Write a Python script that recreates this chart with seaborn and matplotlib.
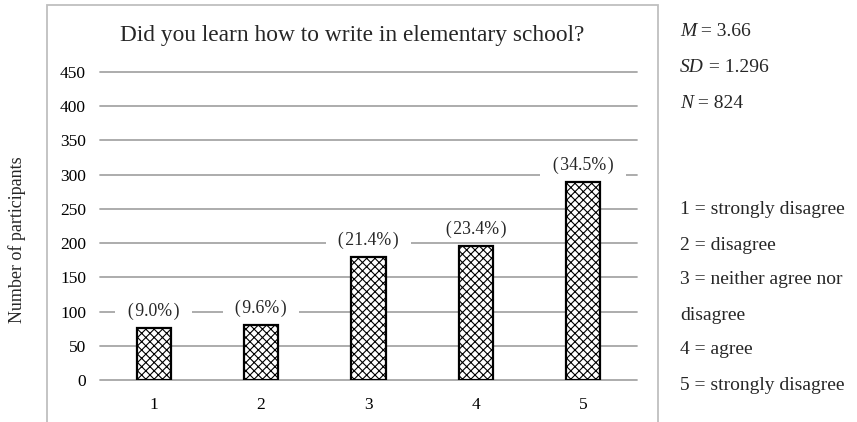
import matplotlib
matplotlib.use("Agg")
import matplotlib.pyplot as plt
import seaborn as sns
import pandas as pd
from matplotlib.patches import Rectangle

categories = ["1", "2", "3", "4", "5"]
counts = [76, 81, 180, 196, 290]
percent_labels = ["(9.0%)", "(9.6%)", "(21.4%)", "(23.4%)", "(34.5%)"]
title = "Did you learn how to write in elementary school?"
ylabel = "Number of participants"
stats_lines = [("M", " = 3.66"), ("SD", " = 1.296"), ("N", " = 824")]
legend_lines = ["1 = strongly disagree", "2 = disagree", "3 = neither agree nor",
                "disagree", "4 = agree", "5 = strongly disagree"]
yticks = [0, 50, 100, 150, 200, 250, 300, 350, 400, 450]

sns.set_theme(style="white")
plt.rcParams["font.family"] = ["Liberation Serif", "DejaVu Serif"]
plt.rcParams["hatch.linewidth"] = 0.8
plt.rcParams["hatch.color"] = "black"

W, H = 857, 422
fig = plt.figure(figsize=(W / 100, H / 100), dpi=100)
ax = fig.add_axes([100 / W, (H - 380) / H, 537 / W, 308 / H])

df = pd.DataFrame({"cat": categories, "n": counts})
sns.barplot(data=df, x="cat", y="n", ax=ax, color="white", width=0.32,
            edgecolor="black", linewidth=1.6, saturation=1, zorder=3)
for p in ax.patches:
    p.set_hatch("xxxx")
    p.set_facecolor("white")
    p.set_edgecolor("black")

ax.set_ylim(0, 450)
ax.set_yticks(yticks)
ax.yaxis.grid(True, color="#a6a6a6", linewidth=1.3)
ax.set_axisbelow(True)
for gl in ax.get_ygridlines():
    gl.set_clip_on(False)
for s in ax.spines.values():
    s.set_visible(False)
ax.tick_params(axis="both", length=0, labelsize=12.5, colors="black")
ax.tick_params(axis="y", pad=10)
ax.tick_params(axis="x", pad=12)
ax.set_xlabel("")
ax.set_ylabel("")

for i, (v, lab) in enumerate(zip(counts, percent_labels)):
    ax.annotate("\u2002" + lab.replace("(", "(\u200a").replace(")", "\u200a)") + "\u2002",
                xy=(i, v), xytext=(0, 12), textcoords="offset points",
                ha="center", va="center", fontsize=12.8, zorder=2,
                bbox=dict(boxstyle="square,pad=0.2", facecolor="white", edgecolor="none"))

# outer border
fig.patches.append(Rectangle((47 / W, -0.02), 611 / W, (H - 5) / H + 0.02,
                             transform=fig.transFigure, fill=False,
                             edgecolor="#bfbfbf", linewidth=1.3))

fig.text(352 / W, 1 - 35 / H, title, ha="center", va="center", fontsize=16.8)
fig.text(17 / W, 1 - 240 / H, ylabel, ha="center", va="center", rotation=90, fontsize=13)

stats_y = [32, 68, 103]
for (var, rest), y in zip(stats_lines, stats_y):
    t = fig.text(680 / W, 1 - y / H, var, ha="left", va="center", fontsize=14, style="italic")
    fig.canvas.draw()
    bb = t.get_window_extent()
    fig.text(bb.x1 / W, 1 - y / H, rest, ha="left", va="center", fontsize=14)

legend_y = [209, 245, 280, 315, 350, 385]
for txt, y in zip(legend_lines, legend_y):
    fig.text(680 / W, 1 - y / H, txt, ha="left", va="center", fontsize=14)

fig.savefig("out.png", dpi=100, facecolor="white")
